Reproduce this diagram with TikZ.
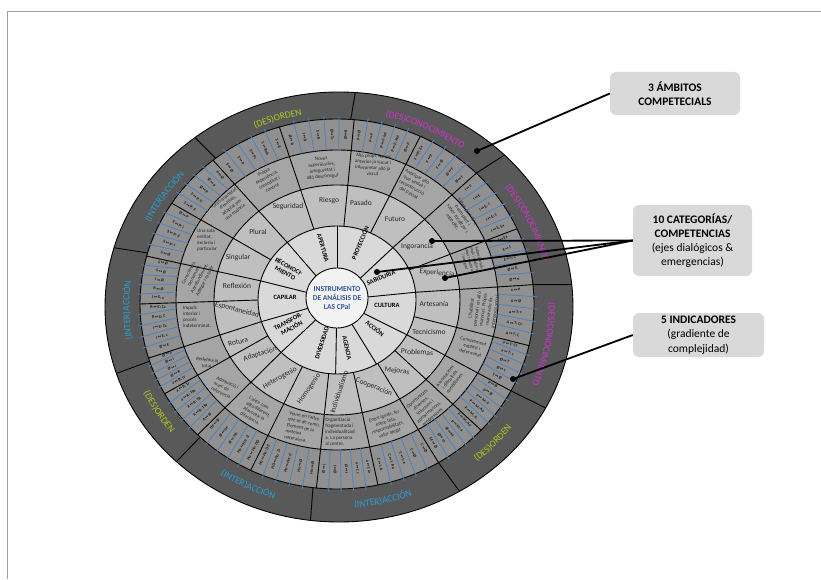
\documentclass[tikz,border=0pt]{standalone}
\usepackage{fontspec}
\setmainfont{Carlito}
\newfontfamily\dejavu{DejaVu Sans}
\usetikzlibrary{calc,decorations.text}
\definecolor{cdark}{HTML}{595959}
\definecolor{cfour}{HTML}{909090}
\definecolor{cthree}{HTML}{A5A5A5}
\definecolor{ctwo}{HTML}{BFBFBF}
\definecolor{cone}{HTML}{D9D9D9}
\definecolor{ccenter}{HTML}{F2F2F2}
\definecolor{cblue}{HTML}{4F81BD}
\definecolor{ctitle}{HTML}{2F5597}
\definecolor{cgreen}{RGB}{176,204,30}
\definecolor{cmag}{RGB}{210,50,210}
\definecolor{ccyan}{RGB}{40,160,215}
\definecolor{cbox}{HTML}{D9D9D9}
\newcommand\myarw{\,{\dejavu\bfseries ↔}\,}
\newcommand\arclabel[5]{%
  \path[decorate, decoration={text along path, text align=center, text color=#4,
      text={|\fontsize{9.5}{11}\selectfont|#5}}]
    ($(c5)+(#1:{1.075*#3} and #3)$) arc[start angle=#1, end angle=#2, x radius={1.075*#3}, y radius=#3];}
\tikzset{
  ringline/.style={draw=black, line width=0.9pt},
  divider/.style={black, line width=0.9pt},
  blueline/.style={cblue, line width=0.8pt},
  catlabel/.style={font=\fontsize{6.5}{7.5}\selectfont\bfseries, align=center, inner sep=0pt},
  sublabel/.style={font=\fontsize{7.5}{9}\selectfont, inner sep=0pt, text=black!85},
  desc/.style={font=\fontsize{5}{6}\selectfont, align=center, inner sep=0pt, text=black!85},
  cell/.style={font=\fontsize{4.2}{4.5}\selectfont\bfseries, inner sep=0pt, text=black!90},
  box/.style={fill=cbox, rounded corners=6pt, align=center, inner sep=0pt},
  conn/.style={black, line width=1.8pt},
  dot/.style={circle, fill=black, inner sep=0pt, minimum size=6pt},
}
\begin{document}
\begin{tikzpicture}[x=1pt,y=1pt]
\useasboundingbox (0,0) rectangle (821,579);
% page frame
\draw[gray!75, line width=1pt] (7,0) -- (7,567) -- (821,567);

\coordinate (c) at (337,279);
\coordinate (c4) at (337,275);
\coordinate (c5) at (339,272);
\coordinate (c45) at (337,277);

% rings
\filldraw[fill=cdark, ringline] (c5) ellipse[x radius=234, y radius=215];
\filldraw[fill=cfour, ringline] (c4) ellipse[x radius=197, y radius=185];
\filldraw[fill=cthree, ringline] (c) ellipse[x radius=161, y radius=150];
\filldraw[fill=ctwo, ringline] (c) ellipse[x radius=123, y radius=115];
\filldraw[fill=cone, ringline] (c) ellipse[x radius=79, y radius=74];

% indicator cells
\foreach \sa/\sb/\lst in {
 129/107/{S\myarw Ø,S\myarw P,S\myarw Pr,S\myarw Rob,S\myarw R},
 107/85/{Ø\myarw R,I\myarw R,S\myarw R,Ø\myarw Tr,Ø\myarw R},
 85/65/{P\myarw Ø,P\myarw F,P\myarw F: Int,P\myarw F: Ant,Ø\myarw P},
 65/45/{F\myarw P: Ex,F\myarw P,F\myarw Ø,Ø\myarw F,Ø\myarw f},
 45/24/{I\myarw e,I\myarw E,I\myarw E: c,I\myarw E: C,I\myarw E: Ex},
 24/6/{I\myarw Ex,E\myarw I,E\myarw I: C,Ø\myarw E,Ø\myarw e},
 6/-13/{a\myarw ø,A\myarw Ø,a\myarw T: c,A\myarw T: Cc,A\myarw T: C},
 -13/-28/{a\myarw T: Cc,a\myarw T: c,Ø\myarw T,Ø\myarw t,T\myarw Ø},
 -28/-43/{P\myarw Ø,p\myarw Ø,P\myarw M: a,P\myarw M: Aa,P\myarw M: A},
 -43/-59/{P\myarw M: Aa,p\myarw M: a,Ø\myarw M,Ø\myarw m,M\myarw Ø},
 -59/-78/{C\myarw Ø,C\myarw Ø,C\myarw I: a,C\myarw I: Aa,C\myarw I: A},
 -78/-96/{a\myarw I: Ia,a\myarw I: c,Ø\myarw I,Ø\myarw I,Ø\myarw i},
 -96/-116/{Ho\myarw Ø,Ho\myarw Ø,Ho\myarw He: d,HO\myarw He: D,Ho\myarw He: Dd},
 -116/-135/{Ho\myarw He: DD,Ho\myarw He: d,Ø\myarw He,Ø\myarw he,He\myarw Ø},
 -135/-151/{A\myarw Ø,A\myarw R: TRr,A\myarw R: TR,a\myarw R: TRr,a\myarw R: Tr},
 -151/-163/{a\myarw R: tr,Ø\myarw R,Ø\myarw r,Ø\myarw I,Ø\myarw a},
 -163/-180/{Ø\myarw E,I\myarw E: c,I\myarw E: Cc,R\myarw E: C,R\myarw E: Cc},
 180/165/{I\myarw E: c,R\myarw Ø,I\myarw Ø,S\myarw Ø,S\myarw Ø},
 165/147/{S\myarw Ø,S\myarw P: I,S\myarw P: Ii,S\myarw P: i,Ø\myarw P},
 147/129/{S\myarw P: II,S\myarw P: Ii,Ø\myarw P,Ø\myarw p,P\myarw Ø}} {
  \foreach \k in {1,2,3,4} {
    \pgfmathsetmacro\bang{\sa+(\sb-\sa)*\k/5}
    \draw[blueline] ($(c)+(\bang:161 and 150)$) -- ($(c4)+(\bang:200 and 188)$);
  }
  \foreach [count=\i] \t in \lst {
    \pgfmathsetmacro\ang{\sa+(\sb-\sa)*(\i-0.5)/5}
    \pgfmathsetmacro\rot{cos(\ang)>0 ? \ang : \ang+180}
    \node[cell, rotate=\rot] (cell-\sa-\i) at ($(c45)+(\ang:179 and 167.5)$) {\t};
  }
}

% dividers rings 2-4
\foreach \a in {129,107,85,65,45,24,6,-13,-28,-43,-59,-78,-96,-116,-135,-151,-163,180,165,147}
  \draw[divider] ($(c)+(\a:79 and 74)$) -- ($(c4)+(\a:197 and 185)$);
% outer dividers
\foreach \a in {86,45,6,-28,-59,-97,-134,-162,164,128}
  \draw[divider] ($(c4)+(\a:197 and 185)$) -- ($(c5)+(\a:234 and 215)$);
% category dividers
\foreach \a in {90,45,6,-28,-60,-91,-135,-163,165,129}
  \draw[divider] (c) -- ($(c)+(\a:79 and 74)$);
% center
\filldraw[fill=ccenter, ringline] (337,281) ellipse[x radius=31, y radius=30];
\node[font=\fontsize{7.5}{9}\selectfont\bfseries, text=ctitle, align=center, inner sep=0pt] (title) at (337,281) {INSTRUMENTO\\DE ANÁLISIS DE\\LAS CPal};

% categories
\node[catlabel, rotate=-74] (k1) at (323,331) {APERTURA};
\node[catlabel, rotate=67] (k2) at (360,336) {PROYECCIÓN};
\node[catlabel, rotate=22] (k3) at (381,301) {SABIDURIA};
\node[catlabel] (k4) at (387,274) {CULTURA};
\node[catlabel, rotate=-38] (k5) at (375,251) {ACCIÓN};
\node[catlabel, rotate=-78] (k6) at (347,231) {AGENCIA};
\node[catlabel, rotate=72] (k7) at (322,236) {DIVERSIDAD};
\node[catlabel, rotate=28] (k8) at (290,254) {TRANSFOR-\\MACIÓN};
\node[catlabel] (k9) at (285,282) {CAPILAR};
\node[catlabel, rotate=-29] (k10) at (287,309) {RECONOCI-\\MIENTO};

% sub categories
\foreach \n/\x/\y/\r/\t in {
 s1/288/372/0/Seguridad, s2/329/378/0/Riesgo, s3/361/376/0/Pasado, s4/395/360/0/Futuro,
 s5/417/332/0/Ingorancia, s6/437/306/-5/Experiencia, s7/434/275/0/Artesanía, s8/429/247/0/Tecnicismo,
 s9/417/227/-3/Problemas, s10/397/208/-8/Mejoras, s11/374/192/-22/Cooperación, s12/339/187/72/Individualismo,
 s13/309/190/55/Homogenio, s14/280/201/30/Heterogenio, s15/260/225/18/Adaptación, s16/238/237/15/Rotura,
 s17/237/269/-15/Espontaneidad, s18/237/293/0/Reflexión, s19/238/321/0/Singular, s20/258/347/0/Plural}
  \node[sublabel, rotate=\r] (\n) at (\x,\y) {\t};

% descriptions
\node[desc, rotate=28] (t1) at (268,399) {Pròpia\\experiència,\\comoditat i\\control};
\node[desc, rotate=5] (t2) at (322,411) {Noves\\experiències,\\inseguretat i\\allò desconegut};
\node[desc, rotate=-3] (t3) at (373,414) {Allò propi, temps\\anterior ja viscut i\\interpretar allò ja\\viscut};
\node[desc, rotate=-28] (t4) at (413,394) {Anticipar allò\\que vindrà i\\reconstrucció\\del passat};
\node[desc, rotate=-55] (t5) at (460,362) {Saber percebre\\incomplert i\\saber focalitzar i\\específic.};
\node[desc, rotate=-75, font=\fontsize{4.3}{5}\selectfont] (t6) at (472,319) {Saber global,\\ampli i sistèmic.\\Saber relacionar\\i integrar};
\node[desc, rotate=82] (t7) at (483,269) {L'habilitat\\personal i en allò\\material. Pròpia\\manera de fer.\\Interessos social};
\node[desc, rotate=-15] (t8) at (472,232) {Coneixement\\explícit i\\determinat};
\node[desc, rotate=52] (t9) at (450,199) {Associacions\\i dificultats\\quotidianes};
\node[desc, rotate=40] (t10) at (425,171) {Oportunitats\\diverses,\\solucions i\\aproximacions\\progressives};
\node[desc, rotate=18] (t11) at (387,154) {Entre iguals, fer\\entre tots,\\responsabilitats,\\valor afegit};
\node[desc, rotate=0, align=left] (t12) at (340,147) {Organització\\fragmentada i\\individualitzad\\a. La persona\\al centre.};
\node[desc, rotate=-12, align=left] (t13) at (303,151) {Veure en l'altre\\què té de comú.\\Element de la\\mateixa\\naturalesa.};
\node[desc, rotate=-30, align=left] (t14) at (257,167) {L'altre com\\algú diferent.\\Afavoreix la\\diferència.};
\node[desc, rotate=-25, align=left] (t15) at (225,191) {Adequació i\\marc de\\referència.};
\node[desc, rotate=-8] (t16) at (207,216) {Redefinició\\total};
\node[desc, align=left] (t17) at (197,262) {Impuls\\interior i\\procés\\indeterminat.};
\node[desc, rotate=62] (t18) at (197,302) {Consciència,\\raonament.\\Aprofundiment.\\Aplegar i recollir};
\node[desc, align=left] (t19) at (207,339) {Una sola\\entitat,\\exclusiu i\\particular};
\node[desc, rotate=38] (t20) at (230,374) {Gran quantitat\\d'entitats,\\adaptat per\\una majoria.};

% outer labels
\arclabel{128}{86}{195}{cgreen}{(DES)ORDEN}
\arclabel{86}{45}{195}{cmag}{(DES)CONOCIMIENTO}
\arclabel{45}{6}{195}{cmag}{(DES)CONOCIMIENTO}
\arclabel{6}{-28}{195}{cmag}{(DES)CONOCIMIENTO}
\arclabel{-59}{-28}{201}{cgreen}{(DES)ORDEN}
\arclabel{-97}{-59}{201}{ccyan}{(INTER)ACCIÓN}
\arclabel{-134}{-97}{201}{ccyan}{(INTER)ACCIÓN}
\arclabel{-162}{-134}{201}{cgreen}{(DES)ORDEN}
\arclabel{198}{164}{195}{ccyan}{(INTER)ACCIÓN}
\arclabel{164}{128}{195}{ccyan}{(INTER)ACCIÓN}

% callout boxes
\node[box, minimum width=130pt, minimum height=43pt, font=\fontsize{11.5}{14}\selectfont\bfseries] (b1) at (675,485.5) {3 ÁMBITOS\\COMPETECIALS};
\node[box, minimum width=119pt, minimum height=71pt, font=\fontsize{11.5}{14}\selectfont] (b2) at (692.5,338.5) {\textbf{10 CATEGORÍAS/}\\\textbf{COMPETENCIAS}\\(ejes dialógicos \&\\emergencias)};
\node[box, minimum width=131pt, minimum height=44pt, font=\fontsize{11.5}{14.5}\selectfont] (b3) at (698.5,244) {\textbf{5 INDICADORES}\\(gradiente de\\complejidad)};

% dots and connectors
\node[dot] (d1) at (477,428) {};
\node[dot] (d2) at (432,338) {};
\node[dot] (d3) at (377,307) {};
\node[dot] (d4) at (445,301) {};
\node[dot] (d5) at (513,200) {};
\draw[conn] (b1.west) -- (d1.center);
\draw[conn] (b2.west) -- (d2.center);
\draw[conn] (b2.west) -- (d3.center);
\draw[conn] (b2.west) -- (d4.center);
\draw[conn] (b3.west) -- (d5.center);
\end{tikzpicture}
\end{document}
